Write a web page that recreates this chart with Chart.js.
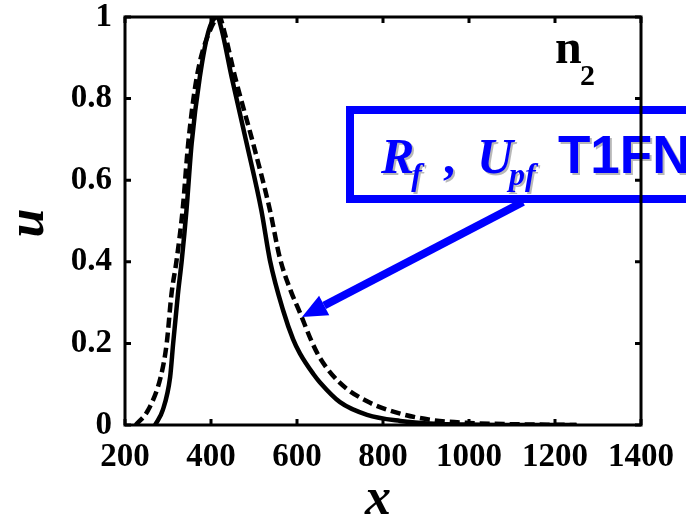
<!DOCTYPE html>
<html>
<head>
<meta charset="utf-8">
<script src="https://cdn.jsdelivr.net/npm/chart.js@4"></script>
<style>
  html, body { margin: 0; padding: 0; background: #fff; }
  #wrap { width: 686px; height: 521px; }
</style>
</head>
<body>
<div id="wrap"><canvas id="c" width="686" height="521"></canvas></div>
<script>
// solid curve
const solidX = [270, 288, 305, 312, 323, 332, 343, 355, 374, 395, 415, 425, 448, 483, 517, 537, 568, 591, 607, 638, 653, 700, 763, 840, 920, 1000, 1100, 1250];
const solidU = [0, 0.037, 0.118, 0.2, 0.32, 0.404, 0.527, 0.69, 0.853, 0.968, 1, 0.968, 0.853, 0.69, 0.527, 0.404, 0.28, 0.21, 0.175, 0.125, 0.105, 0.056, 0.025, 0.01, 0.003, 0.001, 0, 0];

// dashed curve
const dashX = [225, 254, 283, 297, 308, 320, 334, 347, 367, 398, 420, 430, 456, 498, 537, 560, 585, 607, 634, 653, 700, 763, 840, 916, 1000, 1100, 1250];
const dashU = [0, 0.037, 0.118, 0.2, 0.32, 0.404, 0.527, 0.69, 0.853, 0.968, 1, 0.968, 0.853, 0.69, 0.527, 0.41, 0.33, 0.275, 0.205, 0.165, 0.103, 0.058, 0.028, 0.012, 0.005, 0.002, 0];

const xTicks = [200, 400, 600, 800, 1000, 1200, 1400];
const yTicks = [0, 0.2, 0.4, 0.6, 0.8, 1];

const BLUE = "#0000ff";

function pts(xs, ys) {
  return xs.map((x, i) => ({ x: x, y: ys[i] }));
}

// box, arrow, frame and inward ticks, drawn over the datasets
const decor = {
  id: "decor",
  afterDraw(chart) {
    const ctx = chart.ctx;
    const a = chart.chartArea;
    const sx = chart.scales.x, sy = chart.scales.y;
    ctx.save();

    // label box
    ctx.strokeStyle = BLUE;
    ctx.lineWidth = 8;
    ctx.strokeRect(350, 110, 360, 89);

    // arrow
    const tip = [302, 317], from = [523, 202];
    const dx = from[0] - tip[0], dy = from[1] - tip[1];
    const len = Math.hypot(dx, dy);
    const ux = dx / len, uy = dy / len;
    const bx = tip[0] + ux * 25, by = tip[1] + uy * 25;
    ctx.beginPath();
    ctx.moveTo(from[0], from[1]);
    ctx.lineTo(bx, by);
    ctx.stroke();
    ctx.fillStyle = BLUE;
    ctx.beginPath();
    ctx.moveTo(tip[0], tip[1]);
    ctx.lineTo(bx + uy * 11, by - ux * 11);
    ctx.lineTo(bx - uy * 11, by + ux * 11);
    ctx.closePath();
    ctx.fill();

    // label text
    ctx.shadowColor = "rgba(0,0,0,0.28)";
    ctx.shadowOffsetX = 2;
    ctx.shadowOffsetY = 2;
    ctx.textBaseline = "alphabetic";
    ctx.textAlign = "left";
    let x = 381;
    ctx.font = "italic bold 50px 'Liberation Serif'";
    ctx.fillText("R", x, 173); x += ctx.measureText("R").width - 3;
    ctx.font = "italic bold 32px 'Liberation Serif'";
    ctx.fillText("f", x, 185);
    ctx.font = "bold 48px 'Liberation Serif'";
    ctx.fillText(",", 443, 173);
    x = 477;
    ctx.font = "italic bold 50px 'Liberation Serif'";
    ctx.fillText("U", x, 173); x += ctx.measureText("U").width - 4;
    ctx.font = "italic bold 32px 'Liberation Serif'";
    ctx.fillText("pf", x, 185);
    ctx.font = "bold 53px 'Liberation Sans'";
    ctx.fillText("T1FN", 558, 173);
    ctx.shadowColor = "transparent";

    // frame
    ctx.strokeStyle = "#000";
    ctx.lineWidth = 3;
    ctx.strokeRect(a.left, a.top, a.right - a.left, a.bottom - a.top);

    // inward ticks on all four sides
    ctx.beginPath();
    xTicks.forEach((v) => {
      const px = sx.getPixelForValue(v);
      ctx.moveTo(px, a.bottom); ctx.lineTo(px, a.bottom - 6);
      ctx.moveTo(px, a.top); ctx.lineTo(px, a.top + 6);
    });
    yTicks.forEach((v) => {
      const py = sy.getPixelForValue(v);
      ctx.moveTo(a.left, py); ctx.lineTo(a.left + 6, py);
      ctx.moveTo(a.right, py); ctx.lineTo(a.right - 6, py);
    });
    ctx.stroke();

    // n2
    ctx.fillStyle = "#000";
    ctx.font = "bold 48px 'Liberation Serif'";
    ctx.fillText("n", 555, 63);
    ctx.font = "bold 30px 'Liberation Serif'";
    ctx.fillText("2", 580, 85);

    // axis titles
    ctx.font = "italic bold 52px 'Liberation Serif'";
    ctx.textAlign = "center";
    ctx.fillText("x", 378, 514);
    ctx.translate(43, 223);
    ctx.rotate(-Math.PI / 2);
    ctx.fillText("u", 0, 0);
    ctx.restore();
  }
};

// lineHeight 1 keeps the label half-height under the top padding
const tickFont = { family: "'Liberation Serif'", size: 33, weight: "bold", lineHeight: 1 };

new Chart(document.getElementById("c"), {
  type: "line",
  data: {
    datasets: [
      {
        data: pts(solidX, solidU),
        borderColor: "#000",
        borderWidth: 4.5,
        pointRadius: 0,
        cubicInterpolationMode: "monotone",
      },
      {
        data: pts(dashX, dashU),
        borderColor: "#000",
        borderWidth: 4.5,
        borderDash: [10, 5],
        pointRadius: 0,
        cubicInterpolationMode: "monotone",
      },
    ],
  },
  options: {
    responsive: false,
    animation: false,
    layout: { padding: { left: 0, right: 45, top: 17, bottom: 0 } },
    plugins: { legend: { display: false }, tooltip: { enabled: false } },
    scales: {
      x: {
        type: "linear",
        min: 200,
        max: 1400,
        afterBuildTicks: (s) => { s.ticks = xTicks.map((v) => ({ value: v })); },
        afterFit: (s) => { s.height = 96; },
        // hidden tick marks only used as spacing between axis and labels
        grid: { display: false, drawTicks: true, tickLength: 16 },
        border: { display: false },
        ticks: { font: tickFont, color: "#000", padding: 0, maxRotation: 0, autoSkip: false, callback: (v) => String(v) },
      },
      y: {
        min: 0,
        max: 1,
        afterBuildTicks: (s) => { s.ticks = yTicks.map((v) => ({ value: v })); },
        afterFit: (s) => { s.width = 125; },
        grid: { display: false, drawTicks: true, tickLength: 13 },
        border: { display: false },
        ticks: { font: tickFont, color: "#000", padding: 0, autoSkip: false, callback: (v) => String(v) },
      },
    },
  },
  plugins: [decor],
});
</script>
</body>
</html>
